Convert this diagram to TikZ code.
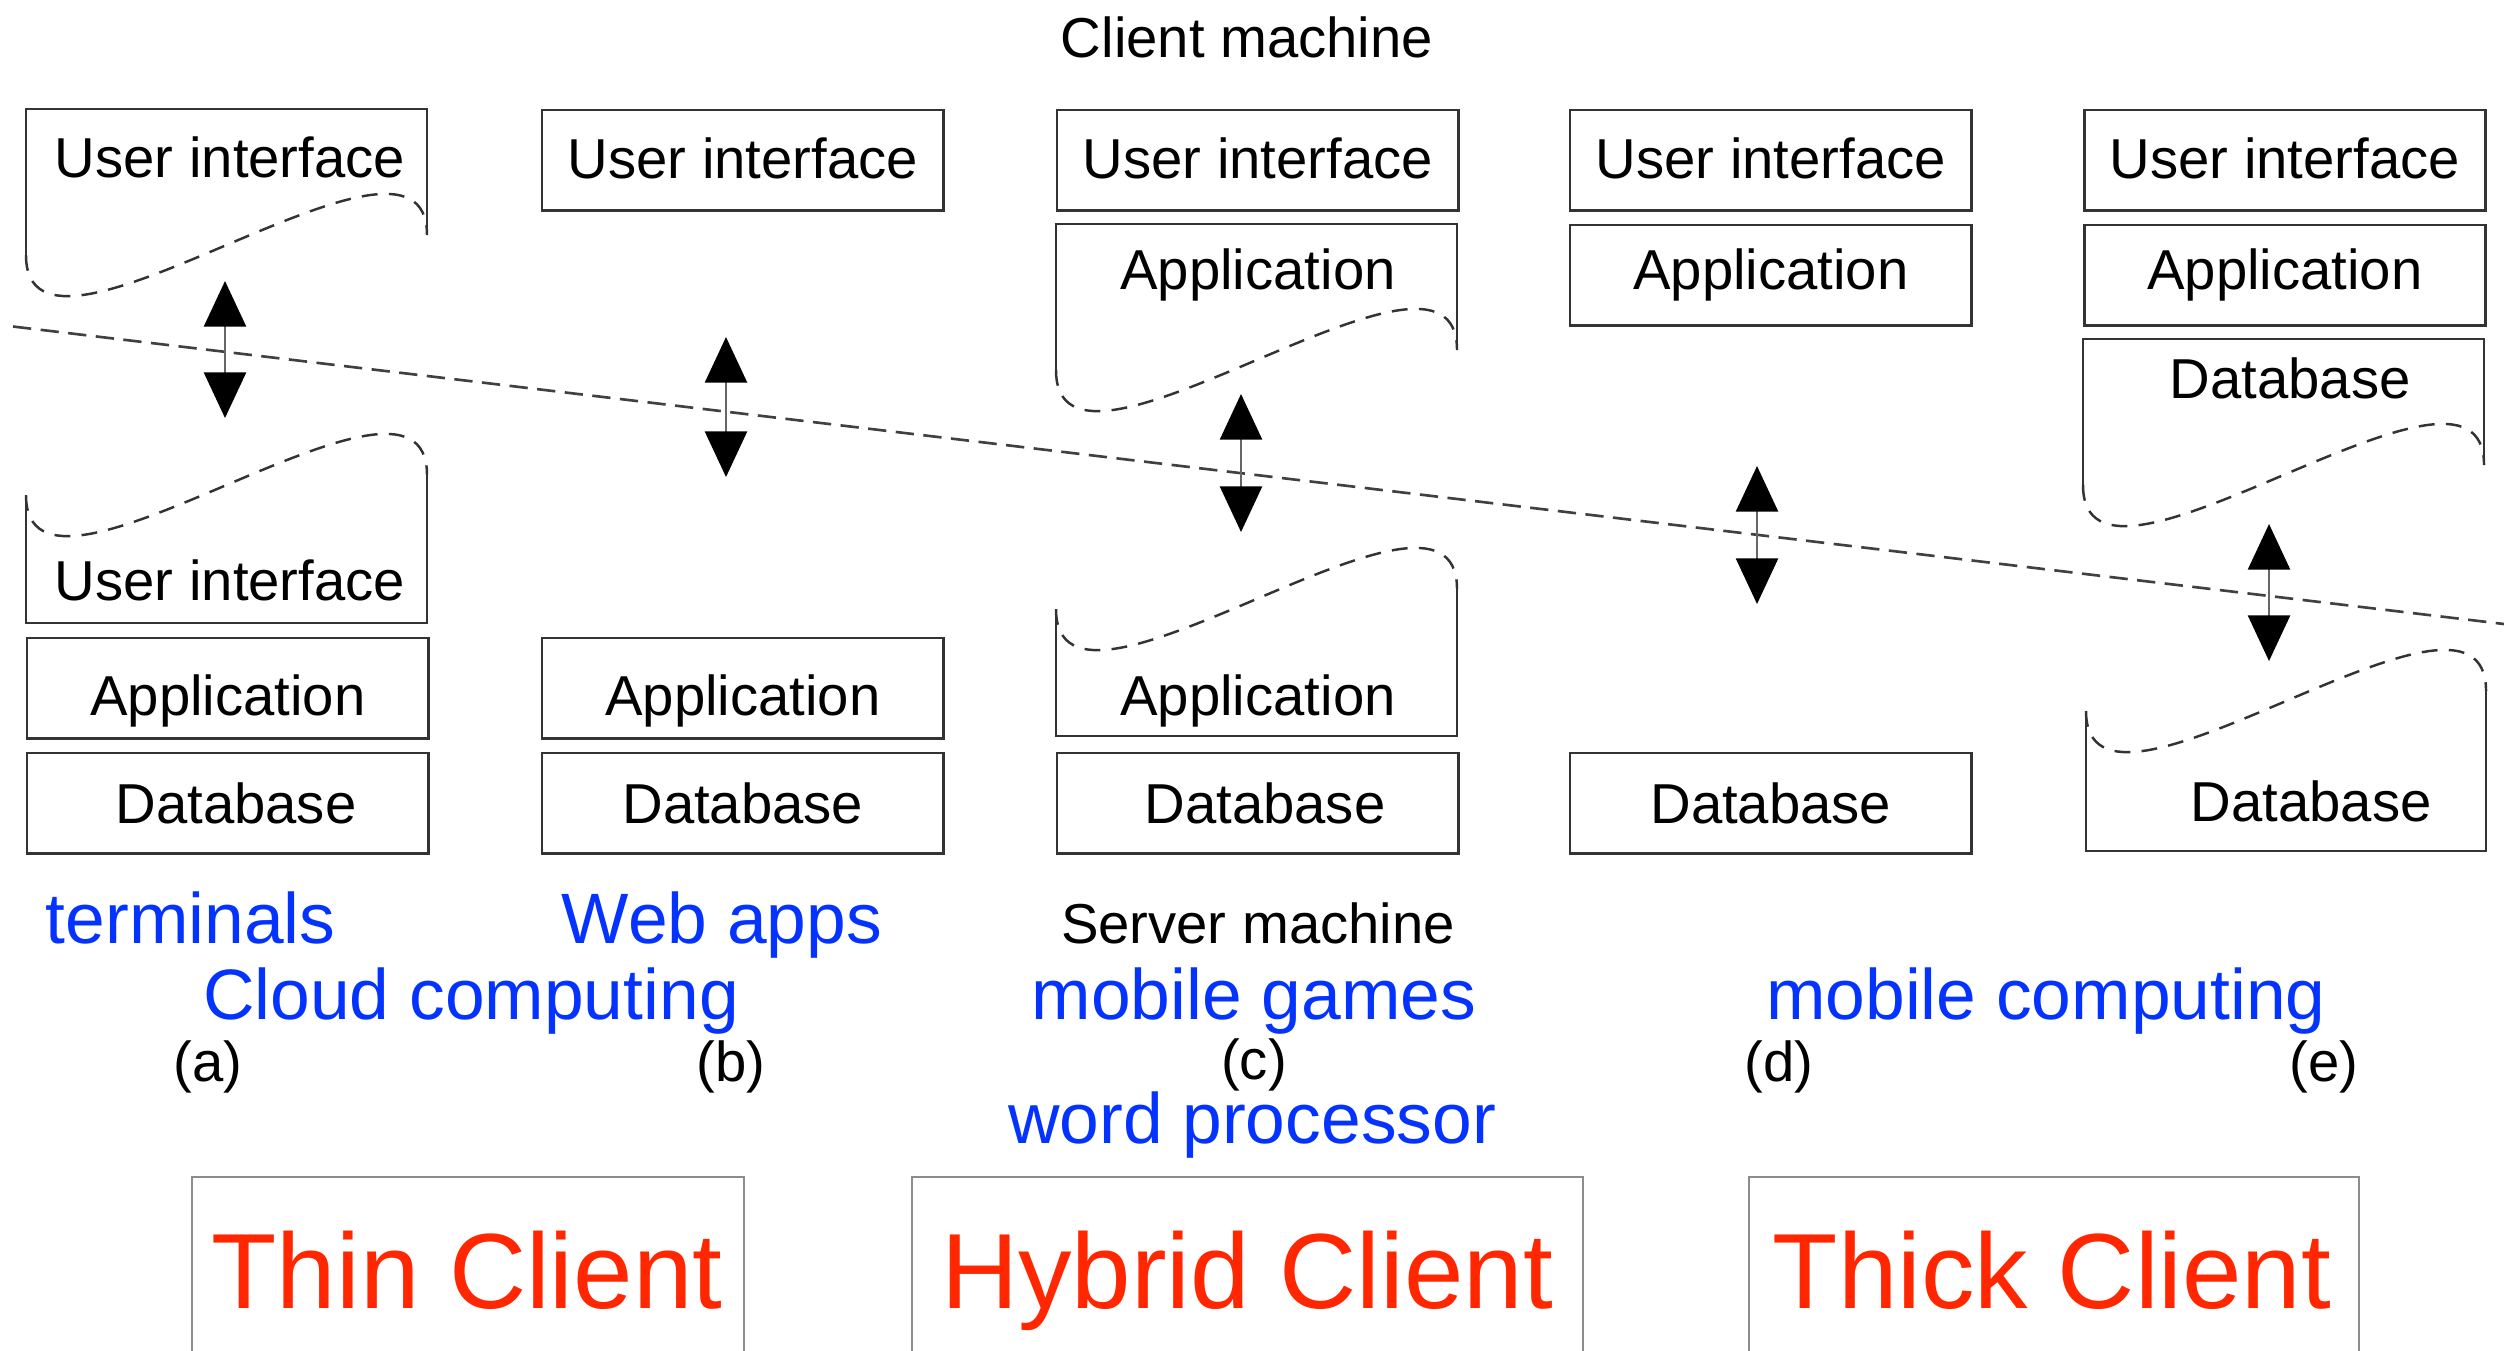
\documentclass[tikz,border=0pt]{standalone}
\usepackage{fontspec}
\setmainfont{Liberation Sans}
\usetikzlibrary{arrows.meta}
\definecolor{kblue}{HTML}{0433FF}
\definecolor{kred}{HTML}{FF2600}
\definecolor{lineclr}{HTML}{333333}
\begin{document}
\begin{tikzpicture}[x=0.01cm,y=-0.01cm,
  outline/.style={draw=lineclr, line width=0.7pt},
  layer/.style={outline, minimum width=4.01cm, minimum height=1cm, inner sep=0pt, anchor=north west,
    font=\fontsize{16}{19}\selectfont, text height=11.5pt, text depth=0pt},
  rowone/.style={layer, text depth=1.4pt},
  rowtwo/.style={layer, text depth=3.6pt},
  rowapp/.style={layer, text height=15.5pt},
  ltext/.style={font=\fontsize{16}{19}\selectfont, anchor=base, inner sep=0pt},
  wave/.style={draw=lineclr, line width=0.7pt, dash pattern=on 4.5pt off 3.2pt},
  divider/.style={draw=black!75, line width=0.75pt, dash pattern=on 5.2pt off 2.7pt},
  dblarrow/.style={draw=black!60, line width=0.6pt,
    {Triangle[length=13pt,width=12pt,color=black]}-{Triangle[length=13pt,width=12pt,color=black]}},
  bluetext/.style={text=kblue, font=\fontsize{20.3}{24}\selectfont, anchor=base, inner sep=0pt},
  redtext/.style={text=kred, font=\fontsize{30.4}{36}\selectfont, anchor=base, inner sep=0pt},
  redbox/.style={draw=black!45, line width=0.6pt}
]
\useasboundingbox (0,0) rectangle (2504,1350);

% ---- dividing dashed line ----
\coordinate (dl1) at (13,326.5);
\coordinate (dl2) at (2504,624);
\draw[divider] (dl1) -- (dl2);

% ---- plain layer boxes ----
\node[rowone] (bUI) at (541,109) {User interface};
\node[rowone] (cUI) at (1056,109) {User interface};
\node[rowone] (dUI) at (1569,109) {User interface};
\node[rowone] (eUI) at (2083,109) {User interface};
\node[rowtwo] (dApp) at (1569,224) {Application};
\node[rowtwo] (eApp) at (2083,224) {Application};
\node[rowapp] (aApp) at (26,637) {Application};
\node[rowapp] (bApp) at (541,637) {Application};
\node[layer] (aDB) at (26,752) {\hspace*{4.6pt}Database};
\node[layer] (bDB) at (541,752) {Database};
\node[layer] (cDB) at (1056,752) {\hspace*{4pt}Database};
\node[layer] (dDB) at (1569,752) {Database};

% ---- broken boxes (upper parts) ----
% (a) user interface, top 109
\draw[outline] (26,255) -- (26,109) -- (427,109) -- (427,235);
\draw[wave] (26,255) .. controls (26,405) and (427,85) .. (427,235);
\node[ltext] (aUItop) at (230,177) {User interface};
% (c) application, top 224
\draw[outline] (1056,370) -- (1056,224) -- (1457,224) -- (1457,350);
\draw[wave] (1056,370) .. controls (1056,520) and (1457,200) .. (1457,350);
\node[ltext] (cApptop) at (1258,289) {Application};
% (e) database, top 339
\draw[outline] (2083,485) -- (2083,339) -- (2484,339) -- (2484,465);
\draw[wave] (2083,485) .. controls (2083,635) and (2484,315) .. (2484,465);
\node[ltext] (eDBtop) at (2290,398) {Database};

% ---- broken boxes (lower parts) ----
% (a) user interface, wave ref 349, bottom 623
\draw[outline] (26,495) -- (26,623) -- (427,623) -- (427,475);
\draw[wave] (26,495) .. controls (26,645) and (427,325) .. (427,475);
\node[ltext] (aUIbot) at (230,600) {User interface};
% (c) application, wave ref 463, bottom 736
\draw[outline] (1056,609) -- (1056,736) -- (1457,736) -- (1457,589);
\draw[wave] (1056,609) .. controls (1056,759) and (1457,439) .. (1457,589);
\node[ltext] (cAppbot) at (1258,715) {Application};
% (e) database, wave ref 565, bottom 851
\draw[outline] (2086,711) -- (2086,851) -- (2486,851) -- (2486,691);
\draw[wave] (2086,711) .. controls (2086,861) and (2486,541) .. (2486,691);
\node[ltext] (eDBbot) at (2311,821) {Database};

% ---- double arrows ----
\coordinate (aT) at (225,281);  \coordinate (aB) at (225,418);
\coordinate (bT) at (726,337);  \coordinate (bB) at (726,477);
\coordinate (cT) at (1241,394); \coordinate (cB) at (1241,532);
\coordinate (dT) at (1757,466); \coordinate (dB) at (1757,604);
\coordinate (eT) at (2269,524); \coordinate (eB) at (2269,661);
\draw[dblarrow] (aT) -- (aB);
\draw[dblarrow] (bT) -- (bB);
\draw[dblarrow] (cT) -- (cB);
\draw[dblarrow] (dT) -- (dB);
\draw[dblarrow] (eT) -- (eB);

% ---- machine captions ----
\node[ltext] (client) at (1247,57) {Client machine};
\node[ltext] (server) at (1258,943) {Server machine};

% ---- sub-figure labels ----
\node[ltext] (la) at (208,1081) {(a)};
\node[ltext] (lb) at (731,1081) {(b)};
\node[ltext] (lc) at (1254,1079) {(c)};
\node[ltext] (ld) at (1779,1081) {(d)};
\node[ltext] (le) at (2324,1081) {(e)};

% ---- blue examples ----
\node[bluetext, anchor=base west] (terminals) at (45,943) {terminals};
\node[bluetext] (webapps) at (722,943) {Web apps};
\node[bluetext] (cloud) at (471,1019) {Cloud computing};
\node[bluetext] (games) at (1254,1019) {mobile games};
\node[bluetext] (mobile) at (2046,1019) {mobile computing};
\node[bluetext] (word) at (1252,1143) {word processor};

% ---- red categories ----
\draw[redbox] (192,1352) -- (192,1177) -- (744,1177) -- (744,1352);
\draw[redbox] (912,1352) -- (912,1177) -- (1583,1177) -- (1583,1352);
\draw[redbox] (1749,1352) -- (1749,1177) -- (2359,1177) -- (2359,1352);
\node[redtext] (thin) at (467,1308) {Thin Client};
\node[redtext] (hybrid) at (1247,1308) {Hybrid Client};
\node[redtext] (thick) at (2052,1308) {Thick Client};
\end{tikzpicture}
\end{document}
